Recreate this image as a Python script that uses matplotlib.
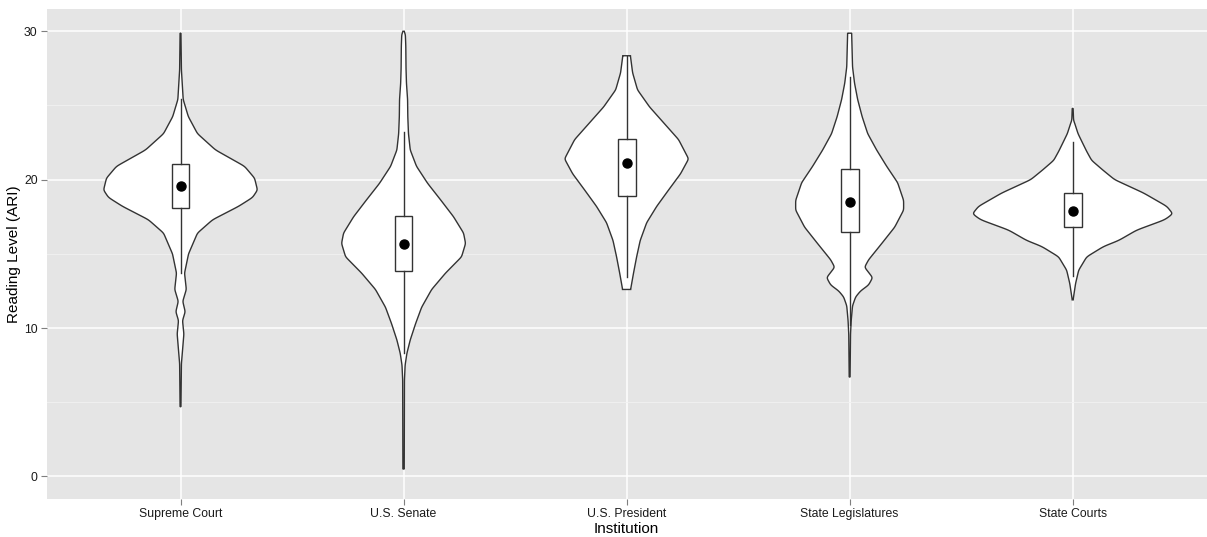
import numpy as np
import matplotlib
matplotlib.use("Agg")
import matplotlib.pyplot as plt

plt.rcParams['font.family'] = ['Liberation Sans', 'DejaVu Sans']

institutions = ["Supreme Court", "U.S. Senate", "U.S. President",
                "State Legislatures", "State Courts"]

# violin outlines: reading level and half width (category units)
sc_y = [4.7, 7.6, 8.5, 9.6, 10.5, 11.1, 11.8, 12.6, 13.7, 15.0, 16.4, 17.3, 18.2,
        18.8, 19.3, 20.1, 20.9, 22.0, 23.1, 24.25, 25.4, 27.4, 29.87]
sc_w = [0.002, 0.004, 0.009, 0.015, 0.009, 0.021, 0.010, 0.026, 0.018, 0.036, 0.076,
        0.144, 0.260, 0.323, 0.345, 0.332, 0.287, 0.157, 0.076, 0.035, 0.012, 0.004, 0.002]

sen_y = [0.5, 6.5, 7.5, 8.3, 9.2, 10.3, 11.4, 12.6, 13.7, 14.8, 15.7, 16.4, 17.5,
         18.6, 19.75, 20.9, 22.0, 23.1, 24.25, 25.4, 26.5, 27.5, 29.0, 29.8, 30.0]
sen_w = [0.003, 0.004, 0.007, 0.015, 0.030, 0.054, 0.081, 0.126, 0.188, 0.260, 0.278,
         0.269, 0.224, 0.168, 0.108, 0.058, 0.030, 0.022, 0.019, 0.018, 0.013, 0.011,
         0.010, 0.008, 0.002]

pres_y = [12.6, 13.7, 14.8, 15.9, 17.1, 18.2, 19.3, 20.4, 21.4, 22.7, 23.8, 24.9,
          26.05, 27.2, 28.35]
pres_w = [0.018, 0.031, 0.045, 0.061, 0.090, 0.135, 0.188, 0.242, 0.278, 0.233,
          0.168, 0.103, 0.049, 0.027, 0.017]

leg_y = [6.7, 9.6, 10.5, 11.5, 12.1, 12.5, 12.9, 13.4, 14.1, 14.6, 15.7, 16.8,
         17.95, 18.6, 19.8, 20.9, 22.0, 23.1, 24.25, 25.4, 26.5, 27.6, 29.87]
leg_w = [0.002, 0.004, 0.007, 0.013, 0.027, 0.049, 0.085, 0.103, 0.067, 0.085, 0.144,
         0.202, 0.242, 0.242, 0.215, 0.166, 0.121, 0.081, 0.056, 0.036, 0.022, 0.013, 0.009]

ct_y = [11.9, 13.0, 13.9, 14.8, 15.5, 15.9, 16.6, 17.3, 17.7, 18.2, 19.1, 20.0,
        20.65, 21.3, 21.9, 22.45, 23.1, 23.8, 24.0, 24.8]
ct_w = [0.002, 0.013, 0.027, 0.063, 0.139, 0.206, 0.287, 0.413, 0.449, 0.422, 0.318,
        0.188, 0.135, 0.085, 0.063, 0.045, 0.024, 0.009, 0.004, 0.002]

violin_y = [sc_y, sen_y, pres_y, leg_y, ct_y]
violin_w = [sc_w, sen_w, pres_w, leg_w, ct_w]

# box summaries: lower quartile, upper quartile, whisker ends, mean
q1 = [18.11, 13.84, 18.92, 16.5, 16.8]
q3 = [21.04, 17.57, 22.75, 20.7, 19.08]
whis_lo = [13.73, 8.3, 13.45, 10.2, 13.5]
whis_hi = [25.42, 23.2, 28.3, 26.9, 22.56]
means = [19.6, 15.64, 21.15, 18.5, 17.9]

W, H = 1207, 537
fig = plt.figure(figsize=(W / 100, H / 100), dpi=100)
ax = fig.add_axes([46.7 / W, (H - 498.7) / H, (1206.5 - 46.7) / W, (498.7 - 9) / H])
ax.set_facecolor('#E5E5E5')
for s in ax.spines.values():
    s.set_visible(False)

ax.set_xlim(0.4, 5.6)
ax.set_ylim(-1.5, 31.5)
ax.set_xticks(range(1, 6))
ax.set_xticklabels(institutions)
ax.set_yticks([0, 10, 20, 30])
ax.set_yticks([5, 15, 25], minor=True)
ax.grid(which='major', color='white', linewidth=1.1)
ax.grid(which='minor', axis='y', color='#F2F2F2', linewidth=0.6)
ax.set_axisbelow(True)
ax.tick_params(which='major', length=4, width=0.8, color='#7F7F7F', pad=2.5,
               labelsize=8.8, labelcolor='#1A1A1A')
ax.tick_params(which='minor', length=0)


def smooth_profile(ys, ws, step=0.01, sigma=0.09):
    yg = np.arange(ys[0], ys[-1] + step / 2, step)
    wg = np.interp(yg, ys, ws)
    k = int(3 * sigma / step)
    kern = np.exp(-0.5 * (np.arange(-k, k + 1) * step / sigma) ** 2)
    kern /= kern.sum()
    padded = np.concatenate([np.full(k, wg[0]), wg, np.full(k, wg[-1])])
    return yg, np.convolve(padded, kern, mode='valid')


for i in range(len(institutions)):
    pos = i + 1
    yg, wg = smooth_profile(violin_y[i], violin_w[i])
    xs = np.concatenate([pos - wg, (pos + wg)[::-1]])
    ys = np.concatenate([yg, yg[::-1]])
    ax.fill(xs, ys, facecolor='white', edgecolor='#333333', linewidth=1.0, zorder=2)

stats = []
for i in range(len(institutions)):
    stats.append(dict(q1=q1[i], q3=q3[i], med=means[i], mean=means[i],
                      whislo=whis_lo[i], whishi=whis_hi[i], fliers=[]))
ax.bxp(stats, positions=range(1, 6), widths=0.08, patch_artist=True,
       showmeans=True, showcaps=False, showfliers=False, manage_ticks=False,
       boxprops=dict(facecolor='white', edgecolor='#333333', linewidth=1.0),
       whiskerprops=dict(color='#333333', linewidth=1.0),
       medianprops=dict(linewidth=0),
       meanprops=dict(marker='o', markerfacecolor='black', markeredgecolor='black',
                      markersize=6.5),
       zorder=3)

ax.set_xlabel("Institution", fontsize=11, labelpad=1.5)
ax.set_ylabel("Reading Level (ARI)", fontsize=11, labelpad=2)

fig.savefig("out.png", dpi=100)
